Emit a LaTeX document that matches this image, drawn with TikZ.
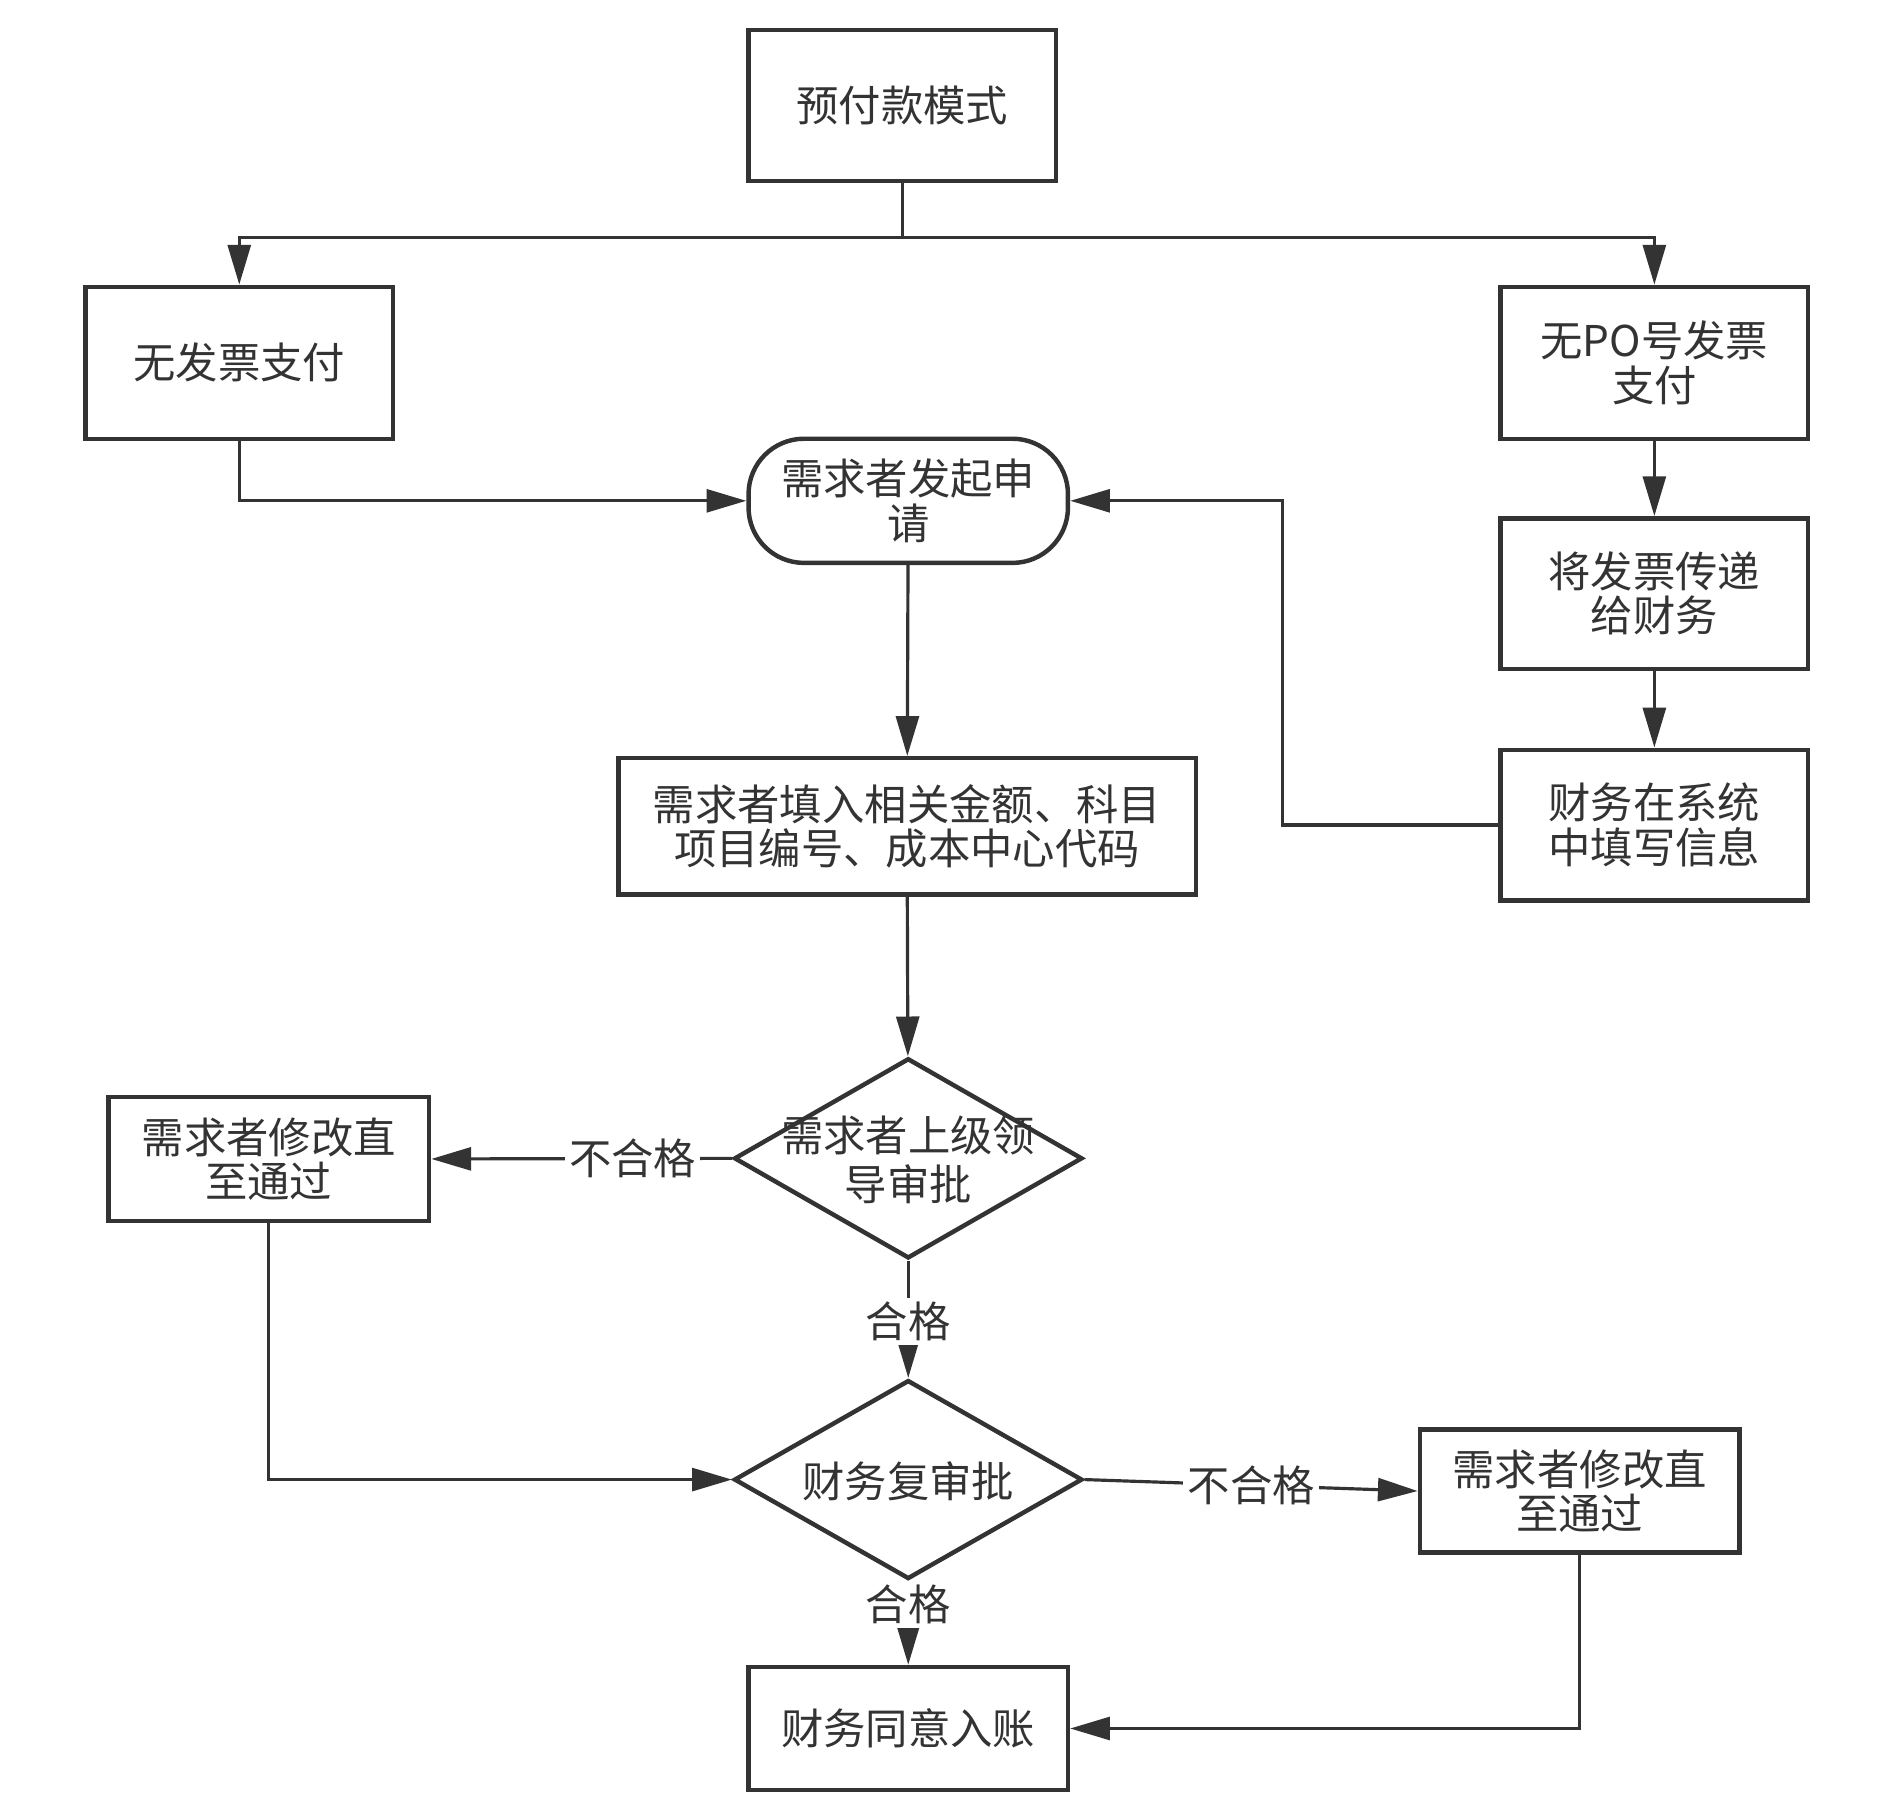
\documentclass[tikz,border=0pt]{standalone}
\usepackage{fontspec}
\setmainfont{Noto Sans CJK SC}
\definecolor{inkgray}{RGB}{51, 51, 51}
\usepackage{tikz}
\usetikzlibrary{shapes.geometric, arrows.meta, positioning}
\newcommand{\dtext}[1]{\makebox[0pt]{\raisebox{-1.4mm}[0pt][0pt]{\begin{tabular}{@{}c@{}}#1\end{tabular}}}}

\tikzset{
  box/.style={draw=inkgray, line width=1.05pt, text=inkgray, align=center, inner sep=2pt,
    minimum width=2.55cm, minimum height=1.25cm, font=\fontsize{10pt}{10.5pt}\selectfont},
  pill/.style={box, rounded corners=4.6mm, minimum width=2.65cm, minimum height=1.03cm},
  decision/.style={draw=inkgray, line width=1.05pt, text=inkgray, diamond, inner sep=0pt,
    minimum width=2.89cm, minimum height=1.66cm, font=\fontsize{10pt}{10.5pt}\selectfont},
  arrow/.style={draw=inkgray, line width=0.75pt, -{Triangle[length=3.3mm, width=1.9mm]}},
  lbl/.style={fill=white, text=inkgray, inner sep=1pt, font=\fontsize{10pt}{10.5pt}\selectfont}
}

\begin{document}
\begin{tikzpicture}
  \useasboundingbox (0, 0) rectangle (15.68, -15.08);

  % Start and the two branches
  \node[box] (mode) at (7.485, -0.875) {预付款模式};
  \node[box, minimum height=1.26cm] (noinv) at (1.985, -3.01) {无发票支付};
  \node[box, minimum height=1.26cm] (nopo) at (13.725, -3.01) {无PO号发票\\支付};

  % Right column
  \node[box] (pass) at (13.725, -4.925) {将发票传递\\给财务};
  \node[box] (fillin) at (13.725, -6.845) {财务在系统\\中填写信息};

  % Main column
  \node[pill] (apply) at (7.535, -4.155) {需求者发起申\\请};
  \node[box, minimum width=4.79cm, minimum height=1.13cm] (enter) at (7.525, -6.855)
    {需求者填入相关金额、科目\\项目编号、成本中心代码};
  \node[decision] (lead) at (7.535, -9.61) {\dtext{需求者上级领\\导审批}};
  \node[decision, minimum height=1.65cm] (fin) at (7.535, -12.275) {\dtext{财务复审批}};
  \node[box, minimum width=2.65cm, minimum height=1.02cm] (book) at (7.535, -14.34) {财务同意入账};

  % Rework boxes
  \node[box, minimum width=2.66cm, minimum height=1.03cm] (fix1) at (2.23, -9.615) {需求者修改直\\至通过};
  \node[box, minimum width=2.65cm, minimum height=1.02cm] (fix2) at (13.105, -12.37) {需求者修改直\\至通过};

  % Connectors
  \draw[arrow] (mode.south) -- ++(0, -0.45) -| (noinv.north);
  \draw[arrow] (mode.south) -- ++(0, -0.45) -| (nopo.north);
  \draw[arrow] (noinv.south) |- (apply.west);
  \draw[arrow] (nopo) -- (pass);
  \draw[arrow] (pass) -- (fillin);
  \draw[arrow] (fillin.west) -- ++(-1.79, 0) |- (apply.east);
  \draw[arrow] (apply) -- (enter);
  \draw[arrow] (enter) -- (lead);
  \draw[arrow] (lead.west) -- node[lbl, pos=0.33] {不合格} (fix1.east);
  \draw[arrow] (lead.south) -- node[lbl, pos=0.52] {合格} (fin.north);
  \draw[arrow] (fix1.south) |- (fin.west);
  \draw[arrow] (fin.east) -- node[lbl] {不合格} (fix2.west);
  \draw[arrow] (fin.south) -- node[lbl, pos=0.28] {合格} (book.north);
  \draw[arrow] (fix2.south) |- (book.east);
\end{tikzpicture}
\end{document}
